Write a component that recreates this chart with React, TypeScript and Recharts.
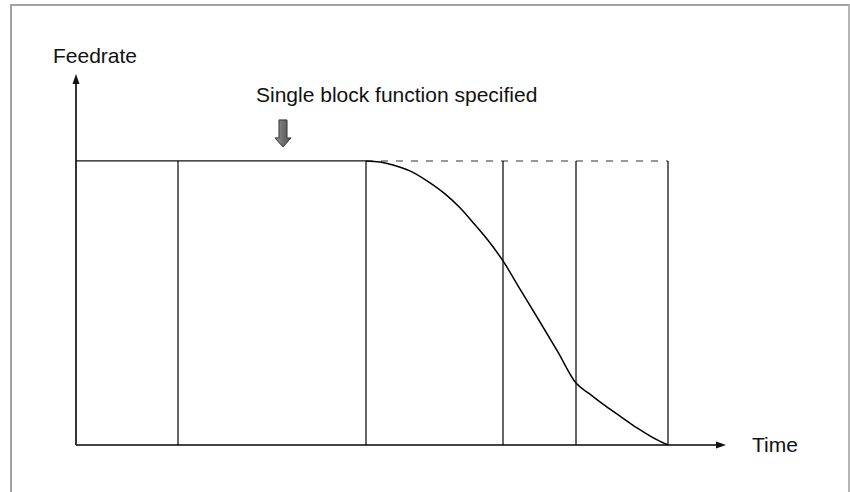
import React from 'react';
import { ComposedChart, Line, XAxis, YAxis, ReferenceLine, ReferenceDot } from 'recharts';

// Time axis in arbitrary units, feedrate in % of commanded feedrate
const blockBoundaries = [102, 290, 427, 500, 592];
const decelStart = 290;
const decelEnd = 592;
const commandedFeed = 100;
const xMax = 650;
const yMax = 130.6;
const arrowAt = 207;

const curveTime = [290, 304, 317, 334, 351, 369, 384, 399, 411, 427, 444, 464, 482, 500, 514, 527, 544, 561, 576, 592];
const curveFeed = [100, 99.6, 98.6, 96.5, 93.0, 88.4, 83.5, 77.5, 72.5, 64.8, 54.9, 43.3, 32.7, 21.8, 17.9, 14.4, 10.2, 6.0, 2.8, 0];

const labels = {
  y: 'Feedrate',
  x: 'Time',
  note: 'Single block function specified',
};

const data = curveTime.map((t, i) => ({ t, v: curveFeed[i] }));

const FONT = '"Liberation Sans", Arial, Helvetica, sans-serif';

const YArrow = (p: any) => (
  <g>
    <polygon points={`${p.cx},${p.cy} ${p.cx - 3.5},${p.cy + 10} ${p.cx + 3.5},${p.cy + 10}`} fill="#111" />
    <text x={p.cx - 23} y={p.cy - 11} fontFamily={FONT} fontSize={21} fill="#111">{labels.y}</text>
  </g>
);

const XArrow = (p: any) => (
  <g>
    <polygon points={`${p.cx},${p.cy} ${p.cx - 10},${p.cy - 3.5} ${p.cx - 10},${p.cy + 3.5}`} fill="#111" />
    <text x={p.cx + 26} y={p.cy + 7} fontFamily={FONT} fontSize={21} fill="#111">{labels.x}</text>
  </g>
);

const BlockArrow = (p: any) => {
  const x = p.cx, y = p.cy;
  const pts = [
    [x - 4, y - 41], [x + 4, y - 41], [x + 4, y - 23], [x + 8, y - 23],
    [x, y - 14], [x - 8, y - 23], [x - 4, y - 23],
  ].map((q) => q.join(',')).join(' ');
  return (
    <g>
      <defs>
        <linearGradient id="ag" x1="0" x2="1" y1="0" y2="0">
          <stop offset="0" stopColor="#9a9a9a" />
          <stop offset="0.5" stopColor="#6e6e6e" />
          <stop offset="1" stopColor="#5a5a5a" />
        </linearGradient>
      </defs>
      <polygon points={pts} fill="url(#ag)" stroke="#333" strokeWidth={1} />
      <text x={x - 27} y={y - 59} fontFamily={FONT} fontSize={21} fill="#111">{labels.note}</text>
    </g>
  );
};

export default function App() {
  return (
    <div style={{ position: 'absolute', left: 0, top: 0, width: 850, height: 492, background: '#fff' }}>
      <div
        style={{
          position: 'absolute', left: 10, top: 4, width: 840, height: 488, boxSizing: 'border-box',
          borderTop: '2px solid #a3a3a3', borderLeft: '2px solid #a3a3a3', borderRight: '2px solid #b5b5b5',
        }}
      />
      <div style={{ position: 'absolute', left: 0, top: 0 }}>
        <ComposedChart width={850} height={492} data={data} margin={{ top: 74, right: 124, bottom: 47, left: 76 }}>
          <XAxis dataKey="t" type="number" domain={[0, xMax]} hide allowDataOverflow />
          <YAxis type="number" domain={[0, yMax]} hide allowDataOverflow />
          <ReferenceLine segment={[{ x: 0, y: 0 }, { x: xMax - 5, y: 0 }]} stroke="#444" strokeWidth={2} />
          <ReferenceLine segment={[{ x: 0, y: 0 }, { x: 0, y: yMax - 2 }]} stroke="#333" strokeWidth={2} />
          <ReferenceLine segment={[{ x: 0, y: commandedFeed }, { x: decelStart, y: commandedFeed }]} stroke="#111" strokeWidth={1.3} />
          <ReferenceLine segment={[{ x: decelStart, y: commandedFeed }, { x: decelEnd, y: commandedFeed }]} stroke="#777" strokeWidth={1.5} strokeDasharray="7 8" />
          {blockBoundaries.map((b) => (
            <ReferenceLine key={b} segment={[{ x: b, y: 0 }, { x: b, y: commandedFeed }]} stroke="#000" strokeWidth={1.2} />
          ))}
          <Line dataKey="v" type="monotone" stroke="#000" strokeWidth={1.5} dot={false} isAnimationActive={false} />
          <ReferenceDot x={0} y={yMax} r={0} shape={YArrow} />
          <ReferenceDot x={xMax} y={0} r={0} shape={XArrow} />
          <ReferenceDot x={arrowAt} y={commandedFeed} r={0} shape={BlockArrow} />
        </ComposedChart>
      </div>
    </div>
  );
}
